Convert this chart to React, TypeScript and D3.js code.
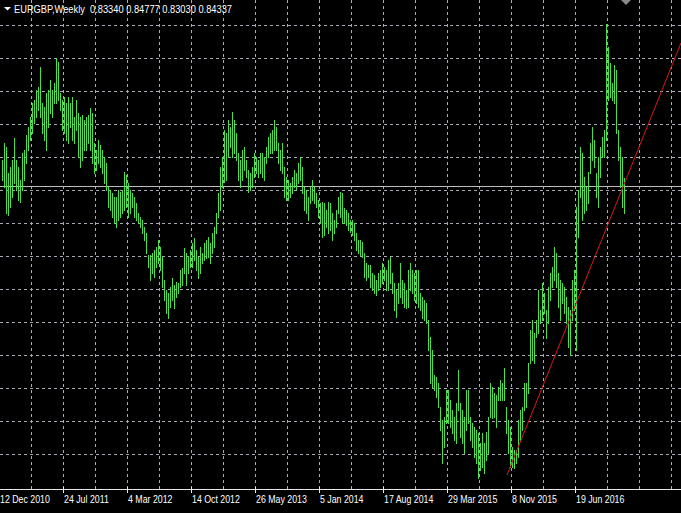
import { useMemo } from 'react';
import * as d3 from 'd3';

// =============================================================================
// Data
// =============================================================================

const SYMBOL = 'EURGBP';
const PERIOD = 'Weekly';

// Weekly bars. Week 0 is the week of 12 Dec 2010, the first drawn bar is week 1.
const FIRST_WEEK = 1;

const HIGHS = [
	0.8566, 0.8651, 0.8631, 0.8501, 0.8531, 0.8566, 0.8676, 0.8566, 0.8531, 0.8466,
	0.8601, 0.8616, 0.8691, 0.8731, 0.8781, 0.8851, 0.8866, 0.8916, 0.8931, 0.9031,
	0.8851, 0.8831, 0.8901, 0.8916, 0.8966, 0.8916, 0.8951, 0.9076, 0.9056, 0.8901,
	0.8866, 0.8881, 0.8851, 0.8881, 0.8851, 0.8881, 0.8781, 0.8866, 0.8801, 0.8781,
	0.8791, 0.8766, 0.8781, 0.8791, 0.8826, 0.8801, 0.8651, 0.8616, 0.8666, 0.8641,
	0.8616, 0.8581, 0.8551, 0.8431, 0.8416, 0.8401, 0.8381, 0.8381, 0.8416, 0.8406,
	0.8416, 0.8506, 0.8491, 0.8451, 0.8416, 0.8401, 0.8381, 0.8351, 0.8301, 0.8281,
	0.8266, 0.8231, 0.8201, 0.8091, 0.8091, 0.8101, 0.8116, 0.8131, 0.8166, 0.8131,
	0.8081, 0.7966, 0.7916, 0.7901, 0.7931, 0.7976, 0.7941, 0.7956, 0.7951, 0.8016,
	0.8026, 0.8126, 0.8101, 0.8081, 0.8116, 0.8151, 0.8176, 0.8116, 0.8081, 0.8131,
	0.8101, 0.8151, 0.8166, 0.8181, 0.8151, 0.8201, 0.8231, 0.8301, 0.8401, 0.8531,
	0.8581, 0.8716, 0.8701, 0.8766, 0.8731, 0.8806, 0.8766, 0.8701, 0.8601, 0.8566,
	0.8616, 0.8631, 0.8566, 0.8516, 0.8501, 0.8531, 0.8601, 0.8581, 0.8566, 0.8601,
	0.8601, 0.8581, 0.8631, 0.8681, 0.8701, 0.8716, 0.8766, 0.8731, 0.8651, 0.8616,
	0.8651, 0.8531, 0.8481, 0.8466, 0.8451, 0.8481, 0.8516, 0.8501, 0.8551, 0.8581,
	0.8531, 0.8431, 0.8416, 0.8381, 0.8431, 0.8466, 0.8431, 0.8401, 0.8366, 0.8351,
	0.8356, 0.8351, 0.8316, 0.8356, 0.8351, 0.8301, 0.8266, 0.8316, 0.8381, 0.8406,
	0.8401, 0.8326, 0.8316, 0.8301, 0.8266, 0.8266, 0.8251, 0.8201, 0.8166, 0.8166,
	0.8156, 0.8101, 0.8051, 0.8041, 0.8041, 0.8001, 0.7991, 0.7966, 0.8001, 0.8016,
	0.8051, 0.8031, 0.8016, 0.8066, 0.8081, 0.8001, 0.7951, 0.7916, 0.7951, 0.8051,
	0.7966, 0.7951, 0.7916, 0.8016, 0.8051, 0.8016, 0.8001, 0.8016, 0.8016, 0.7901,
	0.7881, 0.7866, 0.7851, 0.7766, 0.7681, 0.7616, 0.7491, 0.7481, 0.7451, 0.7331,
	0.7266, 0.7281, 0.7416, 0.7416, 0.7366, 0.7316, 0.7281, 0.7351, 0.7516, 0.7351,
	0.7316, 0.7281, 0.7416, 0.7416, 0.7281, 0.7251, 0.7231, 0.7216, 0.7201, 0.7151,
	0.7201, 0.7151, 0.7206, 0.7281, 0.7451, 0.7431, 0.7401, 0.7391, 0.7431, 0.7466,
	0.7451, 0.7526, 0.7331, 0.7266, 0.7231, 0.7131, 0.7116, 0.7116, 0.7266, 0.7316,
	0.7331, 0.7451, 0.7451, 0.7551, 0.7716, 0.7766, 0.7701, 0.7766, 0.7916, 0.7816,
	0.7951, 0.7901, 0.7816, 0.7931, 0.8001, 0.8031, 0.8131, 0.8101, 0.8001, 0.7966,
	0.7951, 0.7931, 0.7881, 0.7831, 0.7816, 0.7966, 0.8016, 0.8331, 0.8416, 0.8631,
	0.8601, 0.8481, 0.8431, 0.8506, 0.8651, 0.8731, 0.8666, 0.8501, 0.8581, 0.8631,
	0.8681, 0.8716, 0.9246, 0.9131, 0.9051, 0.8951, 0.9041, 0.9016, 0.8716, 0.8631,
	0.8581, 0.84777,
];

const LOWS = [
	0.8466, 0.8431, 0.8301, 0.8291, 0.8331, 0.8381, 0.8451, 0.8416, 0.8366, 0.8356,
	0.8416, 0.8466, 0.8551, 0.8616, 0.8666, 0.8701, 0.8751, 0.8781, 0.8816, 0.8781,
	0.8701, 0.8666, 0.8616, 0.8731, 0.8801, 0.8781, 0.8851, 0.8851, 0.8866, 0.8816,
	0.8716, 0.8701, 0.8666, 0.8651, 0.8731, 0.8666, 0.8651, 0.8716, 0.8581, 0.8531,
	0.8566, 0.8616, 0.8616, 0.8651, 0.8616, 0.8551, 0.8501, 0.8516, 0.8551, 0.8531,
	0.8501, 0.8451, 0.8416, 0.8331, 0.8316, 0.8281, 0.8251, 0.8231, 0.8266, 0.8281,
	0.8301, 0.8316, 0.8331, 0.8281, 0.8301, 0.8331, 0.8281, 0.8266, 0.8251, 0.8231,
	0.8201, 0.8166, 0.8101, 0.8031, 0.7966, 0.8001, 0.7981, 0.8031, 0.8051, 0.8016,
	0.7931, 0.7866, 0.7801, 0.7776, 0.7831, 0.7866, 0.7826, 0.7881, 0.7901, 0.7931,
	0.7941, 0.8001, 0.7941, 0.8001, 0.8031, 0.8031, 0.8066, 0.8016, 0.7976, 0.8001,
	0.8051, 0.8066, 0.8076, 0.8081, 0.8051, 0.8101, 0.8131, 0.8201, 0.8281, 0.8316,
	0.8431, 0.8456, 0.8466, 0.8581, 0.8631, 0.8581, 0.8601, 0.8566, 0.8466, 0.8431,
	0.8466, 0.8516, 0.8481, 0.8406, 0.8416, 0.8431, 0.8481, 0.8501, 0.8481, 0.8501,
	0.8481, 0.8466, 0.8551, 0.8581, 0.8601, 0.8601, 0.8616, 0.8616, 0.8551, 0.8516,
	0.8501, 0.8381, 0.8366, 0.8366, 0.8381, 0.8401, 0.8431, 0.8416, 0.8451, 0.8466,
	0.8401, 0.8316, 0.8301, 0.8266, 0.8351, 0.8366, 0.8351, 0.8331, 0.8281, 0.8251,
	0.8181, 0.8191, 0.8231, 0.8201, 0.8216, 0.8166, 0.8201, 0.8231, 0.8301, 0.8281,
	0.8251, 0.8251, 0.8241, 0.8216, 0.8206, 0.8191, 0.8166, 0.8116, 0.8101, 0.8091,
	0.8081, 0.7981, 0.7966, 0.7981, 0.7931, 0.7916, 0.7901, 0.7891, 0.7916, 0.7931,
	0.7951, 0.7966, 0.7916, 0.7916, 0.7951, 0.7901, 0.7816, 0.7781, 0.7851, 0.7881,
	0.7851, 0.7831, 0.7826, 0.7831, 0.7916, 0.7901, 0.7866, 0.7851, 0.7831, 0.7816,
	0.7776, 0.7766, 0.7751, 0.7616, 0.7451, 0.7431, 0.7416, 0.7381, 0.7331, 0.7216,
	0.7051, 0.7131, 0.7251, 0.7251, 0.7231, 0.7201, 0.7166, 0.7151, 0.7316, 0.7181,
	0.7151, 0.7101, 0.7216, 0.7251, 0.7166, 0.7131, 0.7081, 0.7051, 0.6976, 0.7016,
	0.7031, 0.7001, 0.7066, 0.7101, 0.7281, 0.7276, 0.7281, 0.7231, 0.7366, 0.7366,
	0.7366, 0.7366, 0.7201, 0.7101, 0.7031, 0.7031, 0.7026, 0.7051, 0.7081, 0.7166,
	0.7216, 0.7316, 0.7331, 0.7401, 0.7551, 0.7566, 0.7551, 0.7681, 0.7701, 0.7751,
	0.7766, 0.7801, 0.7676, 0.7751, 0.7866, 0.7931, 0.7966, 0.7931, 0.7831, 0.7766,
	0.7851, 0.7801, 0.7751, 0.7631, 0.7591, 0.7766, 0.7816, 0.7616, 0.8181, 0.8381,
	0.8266, 0.8301, 0.8316, 0.8351, 0.8501, 0.8566, 0.8531, 0.8381, 0.8331, 0.8481,
	0.8581, 0.8581, 0.8666, 0.8866, 0.8881, 0.8866, 0.8851, 0.8701, 0.8566, 0.8431,
	0.8331, 0.8303,
];

// open, high, low, close of the last bar (shown in the title)
const LAST_OHLC = [0.8334, 0.84777, 0.8303, 0.84337];

const TIME_LABELS = [
	'12 Dec 2010', '24 Jul 2011', '4 Mar 2012', '14 Oct 2012', '26 May 2013',
	'5 Jan 2014', '17 Aug 2014', '29 Mar 2015', '8 Nov 2015', '19 Jun 2016',
];
const TIME_LABEL_WEEKS = [0, 32, 64, 96, 128, 160, 192, 224, 256, 288];

// trend line anchors (week, price), drawn as a ray to the right
const TREND_WEEKS = [254, 315];
const TREND_PRICES = [0.6991, 0.8506];

const GRID_TOP_PRICE = 0.9241;
const GRID_PRICE_STEP = 0.0165;
const GRID_WEEK_STEP = 16;

// =============================================================================
// Component
// =============================================================================

const WIDTH = 681;
const HEIGHT = 513;
const AXIS_Y = 489;
const FONT = "'Liberation Sans', Arial, sans-serif";
const BAR_COLOR = '#4cde4c';
const GRID_COLOR = '#a7a9b4';
// bars sit one pixel right of the week line, on even pixel columns
const BAR_SHIFT = 1;

const crisp = (v: number) => Math.round(v) + 0.5;

export default function App() {
	const x = useMemo(() => d3.scaleLinear().domain([0, 341]).range([-1, WIDTH]), []);
	const y = useMemo(() => d3.scaleLinear().domain([0.6801, 0.9366]).range([HEIGHT, 0]), []);

	const bars = HIGHS.map((high, i) => ({ week: FIRST_WEEK + i, high, low: LOWS[i] }));
	const gridPrices = d3.range(0, 14).map((k) => GRID_TOP_PRICE - k * GRID_PRICE_STEP);
	const gridWeeks = d3.range(GRID_WEEK_STEP, 341, GRID_WEEK_STEP);

	const slope = (TREND_PRICES[1] - TREND_PRICES[0]) / (TREND_WEEKS[1] - TREND_WEEKS[0]);
	const endWeek = x.invert(WIDTH);
	const endPrice = TREND_PRICES[0] + slope * (endWeek - TREND_WEEKS[0]);

	const close = LAST_OHLC[3];
	const title = `${SYMBOL},${PERIOD}  ${LAST_OHLC.map((v) => v.toFixed(5)).join(' ')}`;

	return (
		<svg width={WIDTH} height={HEIGHT} style={{ position: 'fixed', left: 0, top: 0, display: 'block', background: '#000' }}>
			{/* grid */}
			{gridPrices.map((p) => (
				<line key={`h${p}`} x1={0} x2={WIDTH} y1={crisp(y(p))} y2={crisp(y(p))} stroke={GRID_COLOR} strokeDasharray="3,3" />
			))}
			{gridWeeks.map((w) => (
				<line key={`v${w}`} x1={x(w) + 0.5} x2={x(w) + 0.5} y1={0} y2={AXIS_Y} stroke={GRID_COLOR} strokeDasharray="3,3" />
			))}

			{/* bid line */}
			<line x1={0} x2={WIDTH} y1={crisp(y(close))} y2={crisp(y(close))} stroke="#bcbcbc" />

			{/* bars: high-low range of each week */}
			{bars.map((b) => {
				const top = Math.round(y(b.high));
				const bottom = Math.round(y(b.low));
				return (
					<rect
						key={b.week}
						x={x(b.week) + BAR_SHIFT}
						y={top}
						width={1}
						height={Math.max(1, bottom - top + 1)}
						fill={BAR_COLOR}
					/>
				);
			})}

			{/* trend line */}
			<line x1={x(TREND_WEEKS[0])} y1={y(TREND_PRICES[0])} x2={x(endWeek)} y2={y(endPrice)} stroke="#d81818" />

			{/* shift marker */}
			<path d="M621,0 L631,0 L626,5 Z" fill="#8a8a8a" />

			{/* time axis */}
			<rect x={0} y={AXIS_Y + 1} width={WIDTH} height={HEIGHT - AXIS_Y - 1} fill="#000" />
			<line x1={0} x2={WIDTH} y1={AXIS_Y + 0.5} y2={AXIS_Y + 0.5} stroke="#e6e6e6" />
			{TIME_LABEL_WEEKS.map((w, i) => (
				<g key={w}>
					<line x1={x(w) + 0.5} x2={x(w) + 0.5} y1={AXIS_Y - 2} y2={AXIS_Y + 4} stroke="#e6e6e6" />
					<text transform={`translate(${x(w) + 1},503) scale(0.88,1)`} fill="#fff" fontSize={10} fontFamily={FONT}>
						{TIME_LABELS[i]}
					</text>
				</g>
			))}

			{/* title */}
			<path d="M4,7 L11,7 L7.5,10.5 Z" fill="#fff" />
			<text
				x={14}
				y={12.5}
				fill="#fff"
				fontSize={10}
				fontFamily={FONT}
				textLength={218}
				lengthAdjust="spacingAndGlyphs"
				style={{ whiteSpace: 'pre' }}
			>
				{title}
			</text>
		</svg>
	);
}
